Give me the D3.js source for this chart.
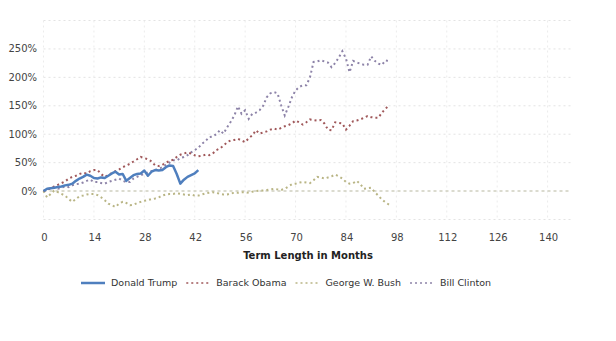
<!DOCTYPE html>
<html><head><meta charset="utf-8">
<script src="https://cdn.jsdelivr.net/npm/d3@7"></script>
<style>body{margin:0;background:#fff}svg{display:block}text{font-family:"DejaVu Sans",Verdana,sans-serif}</style>
</head><body><svg id="c" width="616" height="341"></svg>
<script>
const seriesNames = ["Donald Trump","Barack Obama","George W. Bush","Bill Clinton"];
const trump = [0,4,5,6,7,8,10,11,13,18,22,25,29,27,23,22,24,23,27,31,34,29,30,18,23,28,30,31,36,27,34,37,36,37,42,45,44,30,13,20,25,28,31,37];
const obama = [0,2,5,8,11,14,17,22,25,27,30,32,31,35,37,37,30,25,28,32,35,38,42,45,48,52,56,60,58,56,52,45,44,46,50,53,55,60,64,66,68,66,63,61,62,64,63,66,72,75,80,86,89,90,92,89,86,93,98,107,101,103,105,108,110,108,111,114,116,119,124,121,117,121,126,125,124,125,119,108,107,121,120,119,108,115,123,124,126,129,132,130,129,129,138,145,151];
const bush = [0,-11,-5,1,-2,-5,-8,-14,-19,-14,-9,-8,-6,-5,-5,-7,-11,-16,-22,-25,-28,-22,-19,-21,-25,-24,-21,-19,-17,-16,-14,-13,-11,-8,-6,-5,-5,-4,-5,-6,-7,-6,-8,-8,-6,-4,-3,-2,-3,-5,-6,-6,-4,-3,-3,-2,-2,-3,-1,0,1,1,2,3,4,3,2,4,8,12,13,15,16,15,14,19,25,24,22,24,26,29,26,22,16,13,14,18,12,4,5,6,-2,-8,-15,-20,-24];
const clinton = [0,3,5,6,4,6,8,7,10,12,13,15,18,20,16,16,14,13,16,18,20,22,18,16,16,22,25,28,30,33,35,37,39,42,46,50,54,54,58,60,63,68,72,76,83,88,95,96,100,107,101,112,122,133,149,136,142,127,136,138,142,150,165,172,174,172,151,133,148,165,177,183,186,186,200,227,228,230,228,226,218,225,235,246,233,209,229,226,224,222,222,237,229,224,222,230,228];
const xTicks = [0,14,28,42,56,70,84,98,112,126,140];
const yTicks = [-50,0,50,100,150,200,250,300];
const yLabels = ["", "0%","50%","100%","150%","200%","250%",""];
const xTitle = "Term Length in Months";

const colors = ["#4f7fbe","#a0585a","#b9b585","#8d83a8"];
const seriesData = [trump, obama, bush, clinton];

const svg = d3.select("#c");
const x = d3.scaleLinear().domain([0,146.5]).range([43.5,571]);
const y = d3.scaleLinear().domain([-50,300]).range([219.5,20.5]);

const grid = svg.append("g");
grid.selectAll("line.h").data(yTicks.filter(d=>d!==0)).join("line")
  .attr("x1",x(0)).attr("x2",x(146.5)).attr("y1",d=>y(d)).attr("y2",d=>y(d))
  .attr("stroke","#e3e3e3").attr("stroke-dasharray","2,3").attr("stroke-width",1);
grid.selectAll("line.v").data(xTicks).join("line")
  .attr("x1",d=>x(d)).attr("x2",d=>x(d)).attr("y1",y(300)).attr("y2",y(-50))
  .attr("stroke","#ececec").attr("stroke-dasharray","2,3").attr("stroke-width",1);
grid.append("line").attr("x1",x(0)).attr("x2",x(146.5)).attr("y1",y(0)).attr("y2",y(0))
  .attr("stroke","#cfcfc0").attr("stroke-dasharray","3,3").attr("stroke-width",1.5);

// y labels
svg.append("g").selectAll("text").data(yTicks).join("text")
  .attr("x",37).attr("y",d=>y(d)).attr("dy","0.35em").attr("text-anchor","end")
  .attr("font-size",10).attr("fill","#444").text((d,i)=>yLabels[i]);
// x labels
svg.append("g").selectAll("text").data(xTicks).join("text")
  .attr("x",d=>x(d)+1).attr("y",237).attr("dy","0.35em").attr("text-anchor","middle")
  .attr("font-size",10).attr("fill","#444").text(d=>d);
svg.append("text").attr("x",308).attr("y",255).attr("dy","0.35em").attr("text-anchor","middle")
  .attr("font-size",10).attr("font-weight","bold").attr("fill","#222").text(xTitle);

const line = d3.line().x((d,i)=>x(i)).y(d=>y(d));
// draw dotted series first (Clinton, Bush, Obama), then Trump on top
[3,2,1].forEach(k=>{
  svg.append("path").datum(seriesData[k]).attr("d",line).attr("fill","none")
    .attr("stroke",colors[k]).attr("stroke-width",2).attr("stroke-dasharray","2,3");
});
svg.append("path").datum(trump).attr("d",line).attr("fill","none")
  .attr("stroke",colors[0]).attr("stroke-width",2.5).attr("stroke-linejoin","round");

// legend
const leg = svg.append("g");
let lx = 81;
seriesNames.forEach((n,i)=>{
  const g = leg.append("g");
  g.append("line").attr("x1",lx).attr("x2",lx+24).attr("y1",283).attr("y2",283)
    .attr("stroke",colors[i]).attr("stroke-width",i===0?2.5:1.5)
    .attr("stroke-dasharray",i===0?null:"2,3");
  const t = g.append("text").attr("x",lx+30).attr("y",283).attr("dy","0.35em")
    .attr("font-size",9.5).attr("fill","#333").text(n);
  lx += 30 + t.node().getComputedTextLength() + 9;
});
</script></body></html>
